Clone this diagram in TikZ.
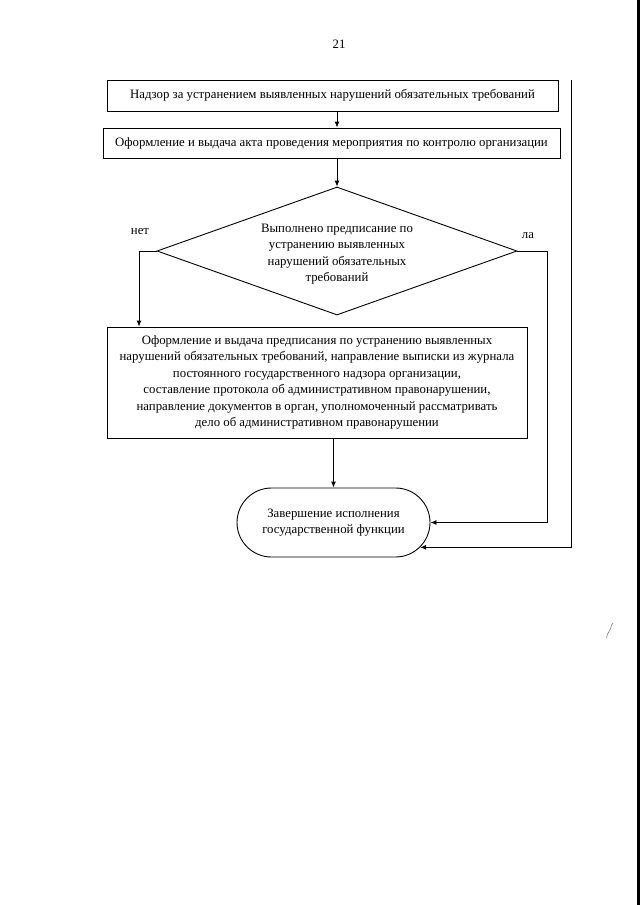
\documentclass[tikz,border=0pt]{standalone}
\usepackage{fontspec}
\setmainfont{Liberation Serif}
\usetikzlibrary{shapes.geometric,shapes.misc,arrows.meta}
\begin{document}
\begin{tikzpicture}[x=1pt,y=-1pt,
  line width=0.9pt,
  txt/.style={font=\fontsize{12.8}{16.4}\selectfont, align=center, inner sep=0pt},
  box/.style={txt, draw, rectangle},
  arr/.style={-{Latex[length=6pt,width=5pt]}},
  conn/.style={line width=0.9pt}
]
\path[use as bounding box] (0,0) rectangle (640,905);
\fill[white] (0,0) rectangle (640,905);
\fill[black] (636.5,0) rectangle (640,905);
\draw[gray, line width=0.6pt] (606.5,638) .. controls (607,632) and (611,631) .. (611.5,625) -- (613,623);

\node[txt] (pg) at (339,44) {21};

\node[box, minimum width=451pt, minimum height=31pt] (b1) at (332.5,95.5)
  {Надзор за устранением выявленных нарушений обязательных требований};
\node[box, minimum width=457pt, minimum height=30pt] (b2) at (331.5,143)
  {Оформление и выдача акта проведения мероприятия по контролю организации};
\node[draw, diamond, minimum width=360pt, minimum height=128pt, inner sep=0pt] (d) at (337,251) {};
\node[txt] (dt) at (337,254) {Выполнено предписание по\\устранению выявленных\\нарушений обязательных\\требований};
\node[txt] (no) at (140,232) {нет};
\node[txt] (yes) at (528,236) {ла};
\node[box, minimum width=420pt, minimum height=111pt] (b3) at (317,382.5)
  {Оформление и выдача предписания по устранению выявленных\\
   нарушений обязательных требований, направление выписки из журнала\\
   постоянного государственного надзора организации,\\
   составление протокола об административном правонарушении,\\
   направление документов в орган, уполномоченный рассматривать\\
   дело об административном правонарушении};
\node[txt, draw, rounded rectangle, minimum width=193pt, minimum height=69pt] (t) at (333.5,522.5)
  {Завершение исполнения\\государственной функции};

\coordinate (nL) at (139,251);
\coordinate (yR) at (547,251);
\coordinate (loopTop) at (571,80);

\draw[conn,arr] (b1.south -| d.north) -- (b2.north -| d.north);
\draw[conn,arr] (b2.south -| d.north) -- (d.north);
\draw[conn,arr] (d.west) -- (nL) -- (nL |- b3.north);
\draw[conn,arr] (d.east) -- (yR) |- (t.east);
\draw[conn,arr] (t.north |- b3.south) -- (t.north);
\draw[conn,arr] (loopTop) |- (t.-16.6);
\end{tikzpicture}
\end{document}
